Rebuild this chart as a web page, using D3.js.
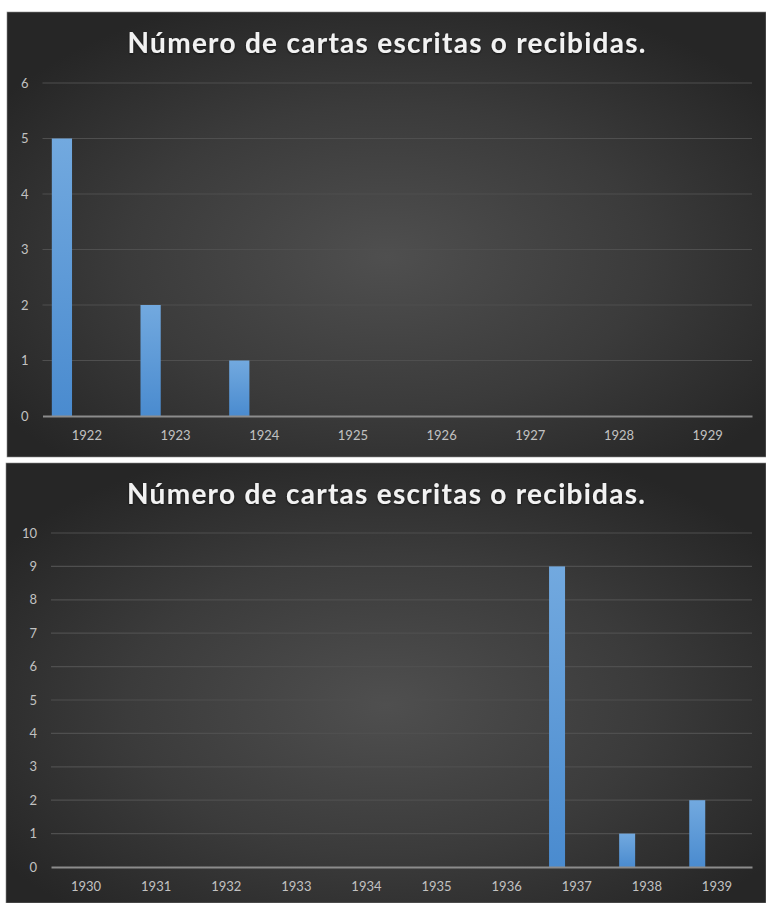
<!DOCTYPE html>
<html>
<head>
<meta charset="utf-8">
<script src="https://cdn.jsdelivr.net/npm/d3@7"></script>
<style>
  html, body { margin: 0; padding: 0; background: #ffffff; }
  svg { display: block; }
</style>
</head>
<body>
<svg id="chart" width="766" height="903"></svg>
<script>
// Letters per year, two periods
const chartTitle = "Número de cartas escritas o recibidas.";

const years1922 = ["1922", "1923", "1924", "1925", "1926", "1927", "1928", "1929"];
const cartas1922 = [5, 2, 1, 0, 0, 0, 0, 0];
const yTicks1922 = [0, 1, 2, 3, 4, 5, 6];

const years1930 = ["1930", "1931", "1932", "1933", "1934", "1935", "1936", "1937", "1938", "1939"];
const cartas1930 = [0, 0, 0, 0, 0, 0, 0, 9, 1, 2];
const yTicks1930 = [0, 1, 2, 3, 4, 5, 6, 7, 8, 9, 10];

const svg = d3.select("#chart");
const defs = svg.append("defs");

// Panel background: dark radial glow
const bg = defs.append("radialGradient")
  .attr("id", "panelBg").attr("cx", "50%").attr("cy", "55%").attr("r", "62%");
bg.append("stop").attr("offset", "0%").attr("stop-color", "#4f4f4f");
bg.append("stop").attr("offset", "55%").attr("stop-color", "#3b3b3b");
bg.append("stop").attr("offset", "100%").attr("stop-color", "#262626");

// Bar fill: lighter blue at top
const barGrad = defs.append("linearGradient")
  .attr("id", "barFill").attr("x1", 0).attr("y1", 0).attr("x2", 0).attr("y2", 1);
barGrad.append("stop").attr("offset", "0%").attr("stop-color", "#72a9df");
barGrad.append("stop").attr("offset", "100%").attr("stop-color", "#4a8bcf");

// Soft shadow under title text
const glow = defs.append("filter").attr("id", "titleGlow")
  .attr("x", "-5%").attr("y", "-30%").attr("width", "110%").attr("height", "160%");
glow.append("feGaussianBlur").attr("in", "SourceAlpha").attr("stdDeviation", 1.2).attr("result", "b");
glow.append("feOffset").attr("in", "b").attr("dx", 0).attr("dy", 1).attr("result", "o");
glow.append("feFlood").attr("flood-color", "#000").attr("flood-opacity", 0.6);
glow.append("feComposite").attr("in2", "o").attr("operator", "in").attr("result", "s");
const gm = glow.append("feMerge");
gm.append("feMergeNode").attr("in", "s");
gm.append("feMergeNode").attr("in", "SourceGraphic");

function drawPanel(opt) {
  const g = svg.append("g");

  g.append("rect")
    .attr("x", opt.box[0]).attr("y", opt.box[1])
    .attr("width", opt.box[2] - opt.box[0]).attr("height", opt.box[3] - opt.box[1])
    .attr("fill", "url(#panelBg)")
    .attr("stroke", "#8a8a8a").attr("stroke-width", 0.6);

  const cx = (opt.box[0] + opt.box[2]) / 2;
  g.append("text")
    .attr("x", cx).attr("y", opt.box[1] + 41)
    .attr("text-anchor", "middle")
    .attr("font-family", "Lato, 'Open Sans', sans-serif")
    .attr("font-weight", "bold")
    .attr("font-size", 28)
    .attr("fill", "#f2f2f2")
    .attr("textLength", 518).attr("lengthAdjust", "spacing")
    .attr("filter", "url(#titleGlow)")
    .text(chartTitle);

  const x = d3.scaleBand().domain(opt.years).range([opt.plot.left, opt.plot.right]).padding(0);
  const y = d3.scaleLinear().domain([0, d3.max(opt.ticks)]).range([opt.plot.bottom, opt.plot.top]);

  // Horizontal gridlines
  g.append("g").selectAll("line")
    .data(opt.ticks.filter(t => t > 0))
    .join("line")
    .attr("x1", opt.plot.left).attr("x2", opt.plot.right)
    .attr("y1", d => y(d)).attr("y2", d => y(d))
    .attr("stroke", "#4f4f4f").attr("stroke-width", 1.2);

  // Y axis labels
  const yAxis = d3.axisLeft(y).tickValues(opt.ticks).tickSize(0).tickPadding(14).tickFormat(d3.format("d"));
  const ya = g.append("g").attr("transform", `translate(${opt.plot.left},0)`).call(yAxis);
  ya.select(".domain").remove();
  ya.selectAll("text")
    .attr("fill", "#c2c2c2")
    .attr("font-family", "Lato, 'Open Sans', sans-serif")
    .attr("font-size", 13);

  // Bars
  const bw = x.bandwidth();
  g.append("g").selectAll("rect")
    .data(opt.years.map((yr, i) => ({ yr, v: opt.values[i] })))
    .join("rect")
    .attr("x", d => x(d.yr) + bw * 0.105)
    .attr("width", bw * 0.228)
    .attr("y", d => y(d.v))
    .attr("height", d => y(0) - y(d.v))
    .attr("fill", "url(#barFill)");

  // X axis baseline and year labels
  const xAxis = d3.axisBottom(x).tickSize(0).tickPadding(15);
  const xa = g.append("g").attr("transform", `translate(0,${y(0)})`).call(xAxis);
  xa.select(".domain").attr("stroke", "#8c8c8c").attr("stroke-width", 2);
  xa.selectAll("text")
    .attr("fill", "#c2c2c2")
    .attr("font-family", "Lato, 'Open Sans', sans-serif")
    .attr("font-size", 13);
}

drawPanel({
  box: [7, 12, 766, 457],
  plot: { left: 42.5, right: 752, top: 83, bottom: 416 },
  years: years1922, values: cartas1922, ticks: yTicks1922
});

drawPanel({
  box: [6, 463, 766, 903],
  plot: { left: 51, right: 752, top: 533, bottom: 867 },
  years: years1930, values: cartas1930, ticks: yTicks1930
});
</script>
</body>
</html>
